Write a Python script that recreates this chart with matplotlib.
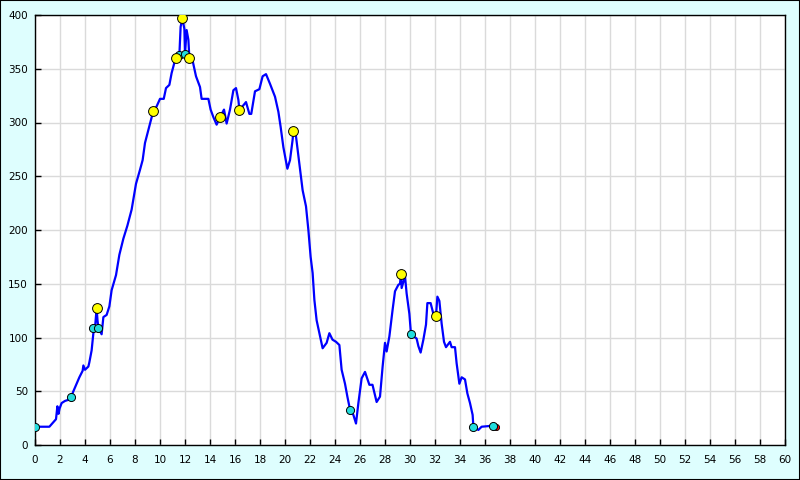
import matplotlib
matplotlib.use('Agg')
import matplotlib.pyplot as plt
import numpy as np

# --- DATA ---
track_x = [0.0, 1.15, 1.68, 1.79, 1.88, 1.97, 2.13, 2.4, 2.67, 2.91, 3.07, 3.55, 3.81, 3.87,
           4.0, 4.27, 4.35, 4.53, 4.67, 4.8, 4.93, 5.0, 5.07, 5.33, 5.47, 5.73, 5.95, 6.13,
           6.48, 6.75, 7.07, 7.39, 7.73, 8.08, 8.4, 8.61, 8.8, 9.07, 9.47, 9.73, 10.0, 10.3,
           10.48, 10.75, 10.93, 11.25, 11.55, 11.65, 11.79, 11.95, 12.0, 12.13, 12.27, 12.35,
           12.6, 12.88, 13.2, 13.33, 13.87, 14.05, 14.27, 14.53, 14.8, 15.12, 15.33, 15.6,
           15.87, 16.08, 16.27, 16.35, 16.67, 16.88, 17.15, 17.3, 17.6, 17.95, 18.21, 18.48,
           18.8, 19.2, 19.47, 19.65, 19.87, 20.19, 20.4, 20.61, 20.67, 20.88, 21.2, 21.41,
           21.68, 21.87, 22.05, 22.21, 22.35, 22.53, 22.75, 23.01, 23.33, 23.55, 23.8, 24.08,
           24.35, 24.53, 24.8, 24.99, 25.2, 25.47, 25.68, 25.87, 26.13, 26.4, 26.75, 27.0,
           27.33, 27.6, 27.81, 28.0, 28.13, 28.35, 28.61, 28.8, 29.07, 29.2, 29.28, 29.33,
           29.6, 29.73, 29.95, 30.08, 30.53, 30.67, 30.85, 31.07, 31.28, 31.39, 31.65, 31.87,
           32.08, 32.19, 32.35, 32.53, 32.72, 32.88, 33.2, 33.33, 33.6, 33.73, 33.95, 34.13,
           34.4, 34.59, 34.8, 35.01, 35.07, 35.47, 35.73, 36.67, 36.88]
track_y = [17, 17, 24, 36, 29, 34, 39, 41, 42, 45, 50, 63, 69, 74,
           70, 73, 77, 88, 104, 109, 127, 116, 109, 103, 119, 121, 129, 144,
           158, 177, 192, 204, 219, 243, 256, 265, 281, 293, 311, 315, 322, 322,
           332, 335, 346, 360, 363, 389, 397, 387, 364, 386, 377, 360,
           358, 343, 333, 322, 322, 312, 305, 298, 305, 312, 299, 312,
           330, 332, 321, 312, 316, 319, 308, 308, 329, 331, 343, 345,
           336, 324, 310, 296, 277, 257, 265, 284, 292, 287, 257, 237,
           222, 200, 175, 160, 135, 116, 104, 90, 95, 104, 98, 96,
           93, 70, 57, 45, 33, 28, 20, 39, 62, 68, 56, 56,
           40, 45, 73, 95, 87, 101, 126, 143, 149, 150, 159, 146,
           157, 141, 122, 103, 99, 92, 86, 98, 112, 132, 132, 122,
           120, 138, 134, 113, 96, 91, 96, 91, 91, 76, 57, 63,
           61, 48, 39, 28, 17, 14, 17, 18, 17]

yellow_x = [4.93, 9.47, 11.25, 11.79, 12.35, 14.8, 16.35, 20.67, 29.28, 32.08]
yellow_y = [127, 311, 360, 397, 360, 305, 312, 292, 159, 120]

cyan_x = [0.0, 2.91, 4.67, 5.07, 11.55, 12.0, 25.2, 30.08, 35.07, 36.67]
cyan_y = [17, 45, 109, 109, 363, 364, 33, 103, 17, 18]

end_x = [36.88]
end_y = [17]

x_ticks = list(range(0, 61, 2))
y_ticks = list(range(0, 401, 50))

BG = '#DEFEFE'

# --- PLOT ---
fig = plt.figure(figsize=(8, 4.8), dpi=100, facecolor=BG)
ax = fig.add_axes([35 / 800, 35 / 480, 750 / 800, 430 / 480])
ax.set_facecolor('white')

ax.plot(track_x, track_y, color='#0000FF', lw=1.6, zorder=3)
ax.scatter(end_x, end_y, s=20, color='red', edgecolor='black', linewidth=0.6, zorder=4)
ax.scatter(cyan_x, cyan_y, s=34, color='#22DDDD', edgecolor='black', linewidth=0.7, zorder=5)
ax.scatter(yellow_x, yellow_y, s=50, color='#FFFF00', edgecolor='black', linewidth=0.7, zorder=6)

ax.set_xlim(0, 60)
ax.set_ylim(0, 400)
ax.set_xticks(x_ticks)
ax.set_yticks(y_ticks)
ax.grid(True, color='#DADADA', lw=1.0, zorder=0)
ax.set_axisbelow(True)
ax.tick_params(direction='in', length=4, width=1, colors='black', labelsize=7.5)
ax.tick_params(axis='x', pad=7)
ax.tick_params(axis='y', pad=5)
for sp in ax.spines.values():
    sp.set_color('black')
    sp.set_linewidth(1)

# outer frame
fig.patches.append(plt.Rectangle((0, 0), 1, 1, transform=fig.transFigure,
                                 fill=False, edgecolor='black', lw=1.5))

fig.savefig('out.png', dpi=100, facecolor=BG)
